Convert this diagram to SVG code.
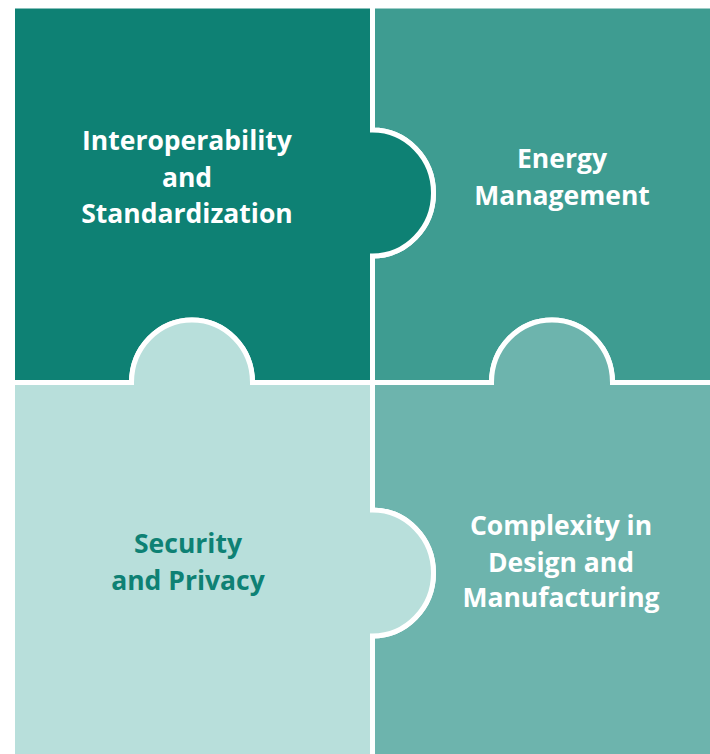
<svg xmlns="http://www.w3.org/2000/svg" width="710" height="754" viewBox="0 0 710 754">
<style>
.piece{stroke:#ffffff;stroke-width:5;stroke-linejoin:miter}
.lbl{font-family:"Open Sans","Noto Sans","Liberation Sans",sans-serif;font-weight:700;font-size:26.5px;text-anchor:middle}
.w{fill:#ffffff}
.d{fill:#0e8174}
</style>
<rect width="710" height="754" fill="#ffffff"/>
<g id="energy">
<path class="piece" fill="#3e9c91" d="M372.5,6 H712.5 V382.5 H612.5 A60.5,62.5 0 0 0 491.5,382.5 H372.5 V256 A61,63 0 0 0 372.5,130 Z"/>
<text class="lbl w" x="562" y="168">Energy</text>
<text class="lbl w" x="562" y="205">Management</text>
</g>
<g id="complexity">
<path class="piece" fill="#6db4ad" d="M372.5,382.5 H491.5 A60.5,62.5 0 0 1 612.5,382.5 H712.5 V756.5 H372.5 V636 A61,63 0 0 0 372.5,510 Z"/>
<text class="lbl w" x="561" y="535">Complexity in</text>
<text class="lbl w" x="561" y="571.5">Design and</text>
<text class="lbl w" x="561" y="607">Manufacturing</text>
</g>
<g id="interop">
<path class="piece" fill="#0e8174" d="M12.5,6 H372.5 V130 A61,63 0 0 1 372.5,256 V382.5 H252.5 A60.5,62.5 0 0 0 131.5,382.5 H12.5 Z"/>
<text class="lbl w" x="187" y="150">Interoperability</text>
<text class="lbl w" x="187" y="186.5">and</text>
<text class="lbl w" x="187" y="223">Standardization</text>
</g>
<g id="security">
<path class="piece" fill="#b8dfdb" d="M12.5,382.5 H131.5 A60.5,62.5 0 0 1 252.5,382.5 H372.5 V510 A61,63 0 0 1 372.5,636 V756.5 H12.5 Z"/>
<text class="lbl d" x="188" y="553">Security</text>
<text class="lbl d" x="188" y="590">and Privacy</text>
</g>
<g id="connectors"/>
</svg>
